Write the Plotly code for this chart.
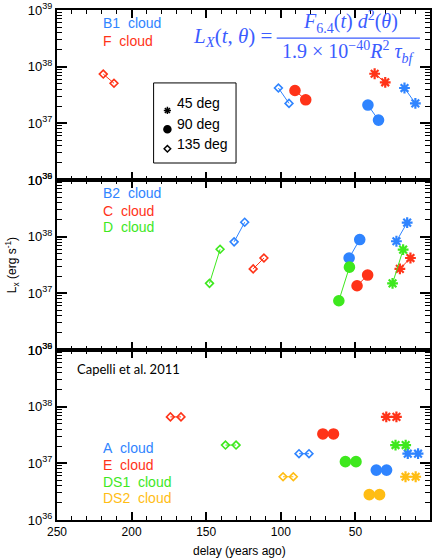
import plotly.graph_objects as go

# ---------------- data (delay in years ago, luminosity in erg/s) ----------------
# each cloud: pairs for viewing angles [45 deg, 90 deg, 135 deg]
B1_delay = [[17.1, 9.8], [41.6, 34.5], [101.6, 94.5]]
B1_lum = [[4.2e37, 2.25e37], [2.1e37, 1.14e37], [4.2e37, 2.25e37]]
F_delay = [[37.1, 30.0], [90.5, 83.3], [219.0, 211.8]]
F_lum = [[7.5e37, 5.3e37], [3.8e37, 2.6e37], [7.4e37, 5.1e37]]

B2_delay = [[22.5, 15.3], [54.2, 47.1], [131.3, 124.2]]
B2_lum = [[8.3e37, 1.77e38], [4.2e37, 8.9e37], [8.1e37, 1.8e38]]
C_delay = [[20.2, 13.1], [48.9, 41.8], [118.5, 111.3]]
C_lum = [[2.7e37, 4.2e37], [1.36e37, 2.1e37], [2.7e37, 4.2e37]]
D_delay = [[25.1, 18.0], [61.1, 54.0], [147.8, 140.7]]
D_lum = [[1.5e37, 5.9e37], [7.4e36, 2.9e37], [1.5e37, 6.0e37]]

A_delay = [[14.9, 8.0], [36.0, 29.1], [87.8, 81.1]]
A_lum = [[1.48e37, 1.48e37], [7.6e36, 7.6e36], [1.48e37, 1.48e37]]
E_delay = [[29.3, 22.5], [71.8, 64.7], [174.0, 166.9]]
E_lum = [[6.6e37, 6.6e37], [3.3e37, 3.3e37], [6.6e37, 6.6e37]]
DS1_delay = [[23.1, 16.3], [56.7, 49.6], [137.1, 130.0]]
DS1_lum = [[2.1e37, 2.1e37], [1.07e37, 1.07e37], [2.1e37, 2.1e37]]
DS2_delay = [[16.4, 9.6], [40.7, 33.8], [98.5, 91.6]]
DS2_lum = [[5.8e36, 5.8e36], [2.8e36, 2.8e36], [5.8e36, 5.8e36]]

angle_labels = ["45 deg", "90 deg", "135 deg"]
x_tick_vals = [250, 200, 150, 100, 50, 0]
y_tick_vals = [1e36, 1e37, 1e38, 1e39]
y_tick_text = ["10<sup>36</sup>", "10<sup>37</sup>", "10<sup>38</sup>", "10<sup>39</sup>"]

# ---------------- styles ----------------
BLUE = "#2f84ff"
RED = "#ff3318"
GREEN = "#3ee81e"
YELLOW = "#ffbd14"
SYMBOLS = ["asterisk-open", "circle", "diamond-open"]
SIZES = [9, 10, 6]

panels = [
    ("x", "y", [("B1 cloud", B1_delay, B1_lum, BLUE), ("F cloud", F_delay, F_lum, RED)]),
    ("x2", "y2", [("B2 cloud", B2_delay, B2_lum, BLUE), ("C cloud", C_delay, C_lum, RED),
                  ("D cloud", D_delay, D_lum, GREEN)]),
    ("x3", "y3", [("A cloud", A_delay, A_lum, BLUE), ("E cloud", E_delay, E_lum, RED),
                  ("DS1 cloud", DS1_delay, DS1_lum, GREEN), ("DS2 cloud", DS2_delay, DS2_lum, YELLOW)]),
]

fig = go.Figure()
for xa, ya, clouds in panels:
    for name, dl, lm, col in clouds:
        for i in range(3):
            sym = SYMBOLS[i]
            marker = dict(symbol=sym, size=SIZES[i], color=col,
                          line=dict(color=col, width=2.2 if i == 0 else 1.6))
            fig.add_trace(go.Scatter(x=dl[i], y=lm[i], mode="lines+markers",
                                     line=dict(color=col, width=1), marker=marker,
                                     xaxis=xa, yaxis=ya, showlegend=False, hoverinfo="skip"))

# legend key (separate full-figure axis pair in paper-like coordinates)
key_x = [0.296, 0.296, 0.296]
key_y = [0.803, 0.766, 0.728]
for i in range(3):
    fig.add_trace(go.Scatter(x=[key_x[i]], y=[key_y[i]], mode="markers",
                             marker=dict(symbol=SYMBOLS[i], size=[6, 7, 5][i], color="black",
                                         line=dict(color="black", width=1.5)),
                             xaxis="x4", yaxis="y4", showlegend=False, hoverinfo="skip"))

minor_y = [k * 10.0 ** n for n in range(36, 39) for k in range(2, 10)]

axis_common = dict(showline=True, linewidth=2, linecolor="black", mirror="allticks",
                   ticks="inside", tickcolor="black", showgrid=False, zeroline=False)

xcommon = dict(axis_common, range=[250, 0], tickvals=x_tick_vals, ticklen=8, tickwidth=1.5,
               minor=dict(dtick=10, ticks="inside", ticklen=4, tickcolor="black", tickwidth=1))
ycommon = dict(axis_common, type="log", range=[36, 39], tickvals=y_tick_vals, ticktext=y_tick_text,
               ticklen=10, tickwidth=1.5,
               minor=dict(tickmode="array", tickvals=minor_y, ticks="inside", ticklen=5,
                          tickcolor="black", tickwidth=1),
               tickfont=dict(family="Liberation Sans", size=13, color="black"))

layout = dict(
    width=433, height=559,
    margin=dict(l=57, r=1, t=10, b=39),
    paper_bgcolor="white", plot_bgcolor="rgba(0,0,0,0)",
    xaxis=dict(xcommon, anchor="y", showticklabels=False),
    yaxis=dict(ycommon, anchor="x", domain=[2 / 3, 1]),
    xaxis2=dict(xcommon, anchor="y2", showticklabels=False),
    yaxis2=dict(ycommon, anchor="x2", domain=[1 / 3, 2 / 3]),
    xaxis3=dict(xcommon, anchor="y3", showticklabels=True,
                tickfont=dict(family="Liberation Sans", size=12, color="black")),
    yaxis3=dict(ycommon, anchor="x3", domain=[0, 1 / 3]),
    xaxis4=dict(domain=[0, 1], range=[0, 1], visible=False, anchor="y4"),
    yaxis4=dict(domain=[0, 1], range=[0, 1], visible=False, anchor="x4"),
    showlegend=False,
)
fig.update_layout(**layout)

LABEL_FONT = "Liberation Sans"
cloud_label_y = {"B1 cloud": 0.9745, "F cloud": 0.940,
                 "B2 cloud": 0.641, "C cloud": 0.606, "D cloud": 0.5745,
                 "A cloud": 0.141, "E cloud": 0.108, "DS1 cloud": 0.0745, "DS2 cloud": 0.043}
for _, _, clouds in panels:
    for name, _, _, col in clouds:
        txt = name.replace(" cloud", "&nbsp;&nbsp;cloud")
        fig.add_annotation(x=0.117, y=cloud_label_y[name], xref="paper", yref="paper",
                           text=txt, showarrow=False, xanchor="left", yanchor="middle",
                           font=dict(family=LABEL_FONT, size=14, color=col))

fig.add_annotation(x=0.048, y=0.296, xref="paper", yref="paper", text="Capelli et al. 2011",
                   showarrow=False, xanchor="left", yanchor="middle",
                   font=dict(family="Lato", size=13, color="black"))

# legend key box and labels
fig.add_shape(type="rect", xref="paper", yref="paper", x0=0.259, x1=0.48, y0=0.700, y1=0.857,
              line=dict(color="black", width=1), fillcolor="rgba(0,0,0,0)")
for i, lab in enumerate(angle_labels):
    fig.add_annotation(x=0.316, y=[0.8176, 0.776, 0.737][i], xref="paper", yref="paper", text=lab,
                       showarrow=False, xanchor="left", yanchor="middle",
                       font=dict(family=LABEL_FONT, size=14, color="black"))

# equation
EQ = "#3b5cff"
EQF = "Liberation Serif"
fig.add_annotation(x=0.47, y=0.947, xref="paper", yref="paper",
                   text="<i>L</i><sub><i>X</i></sub>(<i>t</i>, <i>θ</i>) =",
                   showarrow=False, xanchor="center", yanchor="middle",
                   font=dict(family=EQF, size=21, color=EQ))
fig.add_annotation(x=0.787, y=0.977, xref="paper", yref="paper",
                   text="<i>F</i><sub>6.4</sub>(<i>t</i>) <i>d</i><sup>2</sup>(<i>θ</i>)",
                   showarrow=False, xanchor="center", yanchor="middle",
                   font=dict(family=EQF, size=20, color=EQ))
fig.add_annotation(x=0.781, y=0.917, xref="paper", yref="paper",
                   text="1.9 × 10<sup>−40</sup><i>R</i><sup>2</sup> <i>τ</i><sub><i>bf</i></sub>",
                   showarrow=False, xanchor="center", yanchor="middle",
                   font=dict(family=EQF, size=20, color=EQ))
fig.add_shape(type="line", xref="paper", yref="paper", x0=0.589, x1=0.973, y0=0.945, y1=0.945,
              line=dict(color=EQ, width=1.2))

# axis titles
fig.add_annotation(x=-0.12, y=0.5, xref="paper", yref="paper",
                   text="L<sub>x</sub> (erg s<sup>-1</sup>)", textangle=-90,
                   showarrow=False, xanchor="center", yanchor="middle",
                   font=dict(family=LABEL_FONT, size=12, color="black"))
fig.add_annotation(x=0.488, y=-0.061, xref="paper", yref="paper",
                   text="delay (years ago)", showarrow=False, xanchor="center", yanchor="middle",
                   font=dict(family=LABEL_FONT, size=12, color="black"))

fig.write_html("out.html")
